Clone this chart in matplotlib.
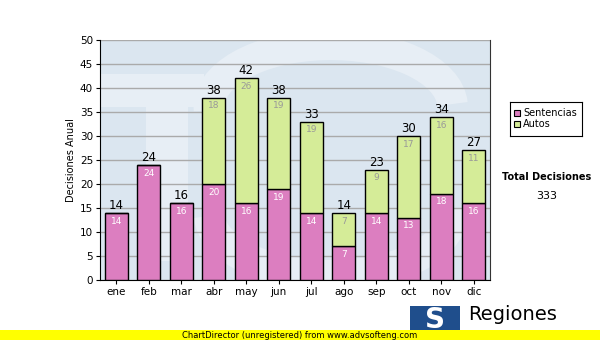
import numpy as np
import matplotlib
matplotlib.use("Agg")
import matplotlib.pyplot as plt
from matplotlib.patches import Rectangle, Arc

meses = ["ene", "feb", "mar", "abr", "may", "jun", "jul", "ago", "sep", "oct", "nov", "dic"]
sentencias = [14, 24, 16, 20, 16, 19, 14, 7, 14, 13, 18, 16]
autos = [0, 0, 0, 18, 26, 19, 19, 7, 9, 17, 16, 11]

plt.rcParams["font.family"] = ["Verdana", "DejaVu Sans"]
fig = plt.figure(figsize=(6, 3.4), dpi=100)
ax = fig.add_axes([100 / 600, 60 / 340, 390 / 600, 240 / 340])
ax.set_facecolor("#dbe6f0")

# faint watermark shapes (logo behind the bars)
wm = "#e7eef5"
ax.add_patch(Arc((6.6, 36), 7.5, 26, theta1=10, theta2=190, color=wm, linewidth=22, zorder=0))
ax.add_patch(Arc((6.6, 14), 7.5, 26, theta1=190, theta2=370, color=wm, linewidth=22, zorder=0))
ax.add_patch(Rectangle((-0.5, 36), 3.2, 7, facecolor=wm, edgecolor="none", zorder=0))
ax.add_patch(Rectangle((0.9, 4), 1.3, 32, facecolor=wm, edgecolor="none", zorder=0))

x = np.arange(len(meses))
total = np.array(sentencias) + np.array(autos)
ax.bar(x, sentencias, width=0.72, color="#dc7ec0", edgecolor="black", linewidth=1, zorder=3)
ax.bar(x, autos, width=0.72, bottom=sentencias, color="#d5ec98", edgecolor="black", linewidth=1, zorder=3)

for i in range(len(meses)):
    ax.text(x[i], total[i] + 0.2, str(total[i]), ha="center", va="bottom", fontsize=8.5, zorder=4)
    ax.text(x[i], sentencias[i] - 0.8, str(sentencias[i]), ha="center", va="top",
            fontsize=6.5, color="white", zorder=4)
    if autos[i] > 0:
        ax.text(x[i], total[i] - 0.8, str(autos[i]), ha="center", va="top",
                fontsize=6.5, color="#999999", zorder=4)

ax.set_xlim(-0.5, len(meses) - 0.5)
ax.set_ylim(0, 50)
ax.set_yticks(range(0, 51, 5))
ax.set_xticks(x)
ax.set_xticklabels(meses)
ax.tick_params(labelsize=7.5, length=3, pad=2)
ax.yaxis.grid(True, color="#aaaaaa", linewidth=1, zorder=1)
ax.set_axisbelow(True)
ax.spines["top"].set_visible(False)
ax.spines["right"].set_color("#333333")
ax.set_ylabel("Decisiones Anual", fontsize=7, labelpad=3)

# legend
leg_ax = fig.add_axes([510 / 600, 1 - 136 / 340, 72 / 600, 34 / 340])
leg_ax.set_xlim(0, 72)
leg_ax.set_ylim(0, 34)
leg_ax.set_xticks([])
leg_ax.set_yticks([])
for s in leg_ax.spines.values():
    s.set_color("black")
leg_ax.add_patch(Rectangle((4, 20), 6, 6, facecolor="#dc7ec0", edgecolor="black", linewidth=0.8))
leg_ax.add_patch(Rectangle((4, 9), 6, 6, facecolor="#d5ec98", edgecolor="black", linewidth=0.8))
leg_ax.text(13, 23, "Sentencias", fontsize=7, va="center")
leg_ax.text(13, 12, "Autos", fontsize=7, va="center")

fig.text(547 / 600, 1 - 177 / 340, "Total Decisiones", fontsize=7, fontweight="bold", ha="center", va="center")
fig.text(547 / 600, 1 - 196 / 340, str(int(total.sum())), fontsize=8, ha="center", va="center")

# logo
fig.patches.append(Rectangle((410 / 600, 1 - 332 / 340), 50 / 600, 26 / 340, transform=fig.transFigure,
                             facecolor="#1f4e8c", edgecolor="none"))
fig.text(435 / 600, 1 - 320 / 340, "S", fontsize=20, fontweight="bold", color="white", ha="center", va="center")
fig.text(468 / 600, 1 - 315 / 340, "Regiones", fontsize=14, ha="left", va="center")

# footer
fig.patches.append(Rectangle((0, 0), 1, 10 / 340, transform=fig.transFigure,
                             facecolor="#ffff00", edgecolor="none", zorder=5))
fig.text(0.5, 5 / 340, "ChartDirector (unregistered) from www.advsofteng.com", fontsize=6,
         ha="center", va="center", zorder=6)

fig.savefig("out.png", dpi=100)
